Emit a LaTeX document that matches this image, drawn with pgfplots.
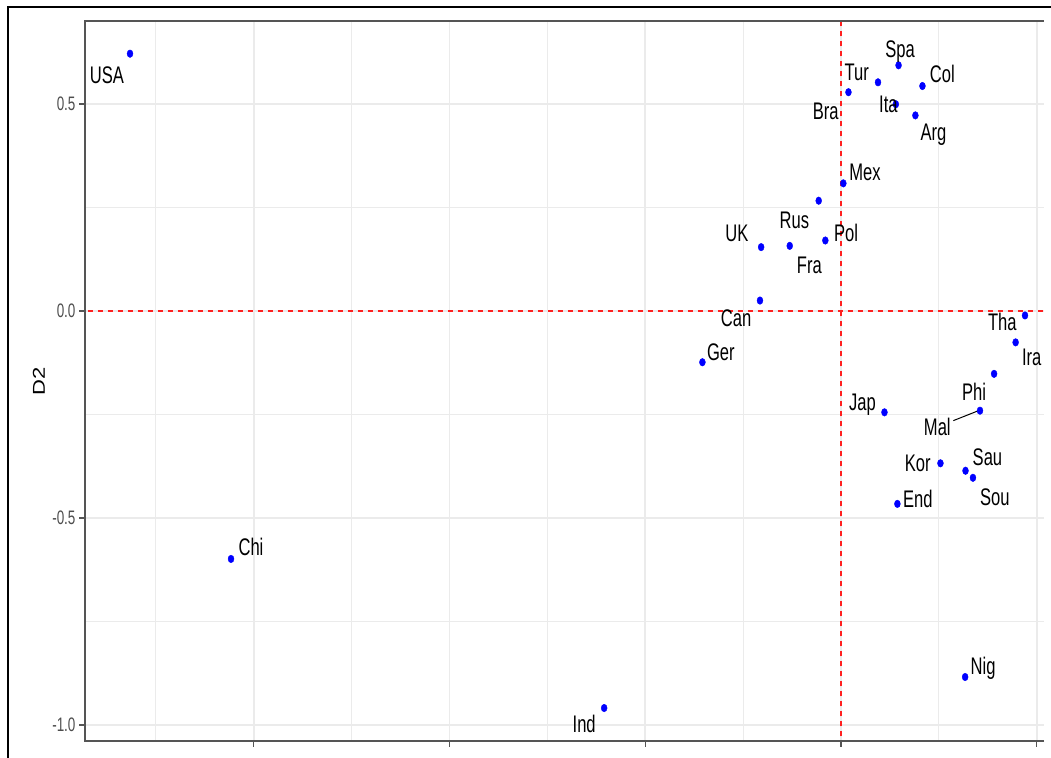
\documentclass[border=0pt]{standalone}
\usepackage{pgfplots}
\pgfplotsset{compat=1.18}
\usepackage{fontspec}
\setmainfont{Liberation Sans}[FakeStretch=0.69]
\newfontfamily\dfont{Liberation Sans}
\definecolor{gridc}{HTML}{EBEBEB}
\definecolor{borderc}{HTML}{555555}
\definecolor{tickc}{HTML}{4D4D4D}
\definecolor{ptc}{HTML}{0000FF}
\definecolor{refc}{HTML}{FF2020}
\begin{document}
\begin{tikzpicture}
\useasboundingbox (0,0) rectangle (1051pt,757pt);
\clip (0,0) rectangle (1051pt,757pt);
\fill[white] (0,0) rectangle (1051pt,757pt);
\begin{axis}[
  name=ax,
  at={(85pt,16pt)}, anchor=south west,
  scale only axis, width=959pt, height=720pt,
  xmin=-1.931, xmax=0.5185, ymin=-1.0386, ymax=0.700,
  xtick={-1.5,-1,-0.5,0,0.5}, xticklabels={},
  ytick={-1,-0.5,0,0.5}, yticklabels={-1.0,-0.5,0.0,0.5},
  minor xtick={-1.75,-1.25,-0.75,-0.25,0.25},
  minor ytick={-0.75,-0.25,0.25},
  grid=both,
  major grid style={draw=gridc, line width=1.6pt},
  minor grid style={draw=gridc, line width=0.8pt},
  minor tick length=0pt,
  major tick length=6pt,
  tick align=outside,
  xtick pos=bottom, ytick pos=left,
  major tick style={draw=borderc, line width=1.4pt},
  axis line style={draw=none},
  yticklabel style={font=\fontsize{19.5pt}{19.5pt}\selectfont, text=tickc, anchor=east},
  ylabel={\scalebox{1}[0.78]{D2}},
  every axis y label/.style={at={(rel axis cs:0,0.5)}, xshift=-46pt, rotate=90, anchor=center,
     font=\dfont\fontsize{22pt}{22pt}\selectfont},
  clip=true,
]
\addplot[refc, line width=1.5pt, dash pattern=on 5pt off 5pt] coordinates {(-2,0) (0.6,0)};
\addplot[refc, line width=1.5pt, dash pattern=on 5pt off 5pt] coordinates {(0,-1.1) (0,0.8)};
\addplot[black, line width=1pt] coordinates {(0.287,-0.265) (0.351,-0.241)};
\addplot[only marks, mark=*, mark size=3.8pt, mark options={draw=ptc, fill=ptc, xscale=0.78}] table {
x y
-1.816 0.621
-1.558 -0.599
-0.605 -0.959
0.317 -0.884
0.147 0.593
0.0945 0.552
0.208 0.543
0.019 0.528
0.140 0.499
0.190 0.472
0.006 0.308
-0.057 0.266
-0.040 0.170
-0.131 0.157
-0.204 0.154
-0.207 0.025
-0.354 -0.124
0.470 -0.011
0.446 -0.076
0.391 -0.152
0.355 -0.241
0.111 -0.245
0.254 -0.368
0.318 -0.386
0.337 -0.403
0.144 -0.466
0.530 0.027
};
\addplot[draw=none, mark=none, nodes near coords, point meta=explicit symbolic,
  nodes near coords align=center,
  nodes near coords style={anchor=center, font=\fontsize{24pt}{24pt}\selectfont, text=black,
     text height=17.2pt, text depth=0pt, inner sep=0pt}]
  table[meta=label] {
x y label
-1.875 0.570 USA
-1.507 -0.570 Chi
-0.656 -0.998 Ind
0.363 -0.857 Nig
0.151 0.633 Spa
0.040 0.577 Tur
0.259 0.572 Col
-0.039 0.484 Bra
0.121 0.499 Ita
0.236 0.431 Arg
0.061 0.335 Mex
-0.119 0.220 Rus
-0.266 0.188 UK
0.013 0.189 Pol
-0.081 0.111 Fra
-0.268 -0.018 Can
-0.307 -0.098 Ger
0.412 -0.026 Tha
0.487 -0.110 Ira
0.340 -0.195 Phi
0.246 -0.279 Mal
0.055 -0.219 Jap
0.196 -0.368 Kor
0.374 -0.352 Sau
0.393 -0.450 Sou
0.196 -0.455 End
};
\end{axis}
\draw[borderc, line width=1.6pt] (ax.south east) -- (ax.south west) -- (ax.north west) -- (ax.north east);
\draw[black, line width=2pt] (7.5pt,-5pt) -- (7.5pt,750pt) -- (1060pt,750pt);
\end{tikzpicture}
\end{document}
